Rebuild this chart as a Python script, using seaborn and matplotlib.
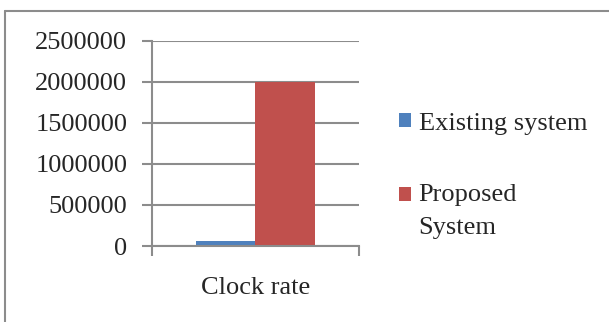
import seaborn as sns
import pandas as pd
import matplotlib.pyplot as plt
from matplotlib.lines import Line2D
from matplotlib.patches import Rectangle
from matplotlib.legend_handler import HandlerPatch

categories = ['Clock rate']
systems = ['Existing system', 'Proposed\nSystem']
values = [60000, 2000000]
yticks = [0, 500000, 1000000, 1500000, 2000000, 2500000]
colors = ['#4F81BD', '#C0504D']

df = pd.DataFrame({'metric': categories * len(systems), 'system': systems, 'value': values})

sns.set_style('white')
plt.rcParams['font.family'] = ['Liberation Serif', 'DejaVu Serif']
FS = 19

fig = plt.figure(figsize=(6.09, 3.22), dpi=100)
ax = fig.add_axes([0.25, 0.236, 0.339, 0.637])

sns.barplot(data=df, x='metric', y='value', hue='system', palette=colors,
            width=0.58, saturation=1, linewidth=0, ax=ax, legend=True)

grid_c = '#8c8c8c'
ax.set_ylim(0, 2500000)
ax.set_xlim(-0.5, 0.5)
ax.set_yticks(yticks)
ax.set_yticklabels([str(v) for v in yticks], fontsize=FS)
ax.yaxis.grid(True, color=grid_c, linewidth=1.5)
ax.set_axisbelow(True)
ax.tick_params(axis='y', length=7, width=1.5, color=grid_c, pad=11, direction='out', left=True)
ax.set_xticks([0])
ax.set_xticklabels(categories, fontsize=FS)
ax.set_xticks([-0.5, 0.5], minor=True)
ax.tick_params(axis='x', which='major', length=0, pad=22)
ax.tick_params(axis='x', which='minor', length=7, width=1.5, color=grid_c, direction='out', bottom=True)
ax.set_xlabel('')
ax.set_ylabel('')
for s in ['top', 'right']:
    ax.spines[s].set_visible(False)
for s in ['left', 'bottom']:
    ax.spines[s].set_color(grid_c)
    ax.spines[s].set_linewidth(1.5)


# legend square sits level with the first line of a two-line label
class TopSquare(HandlerPatch):
    def __init__(self, shift=0.0, **kw):
        super().__init__(**kw)
        self.shift = shift

    def create_artists(self, legend, orig_handle, xdescent, ydescent, width, height, fontsize, trans):
        p = Rectangle((-xdescent, -ydescent + self.shift * fontsize), width, height,
                      facecolor=orig_handle.get_facecolor(), edgecolor='none', transform=trans)
        return [p]


handles, labels = ax.get_legend_handles_labels()
hmap = {handles[0]: TopSquare(0.0), handles[1]: TopSquare(0.62)}
leg = ax.legend(handles, labels, loc='upper left', bbox_to_anchor=(0.655, 0.65),
                bbox_transform=fig.transFigure, frameon=False, fontsize=FS,
                handlelength=0.45, handleheight=0.45, handletextpad=0.3,
                labelspacing=1.85, borderaxespad=0, borderpad=0, handler_map=hmap)
for t in leg.get_texts():
    t.set_linespacing(1.7)

# outer chart frame (only left and top edges are visible)
fig.add_artist(Line2D([0.009, 0.009], [0, 0.966], transform=fig.transFigure, color=grid_c, linewidth=1.5))
fig.add_artist(Line2D([0.009, 1.0], [0.966, 0.966], transform=fig.transFigure, color=grid_c, linewidth=1.5))

fig.savefig('out.png', dpi=100)
